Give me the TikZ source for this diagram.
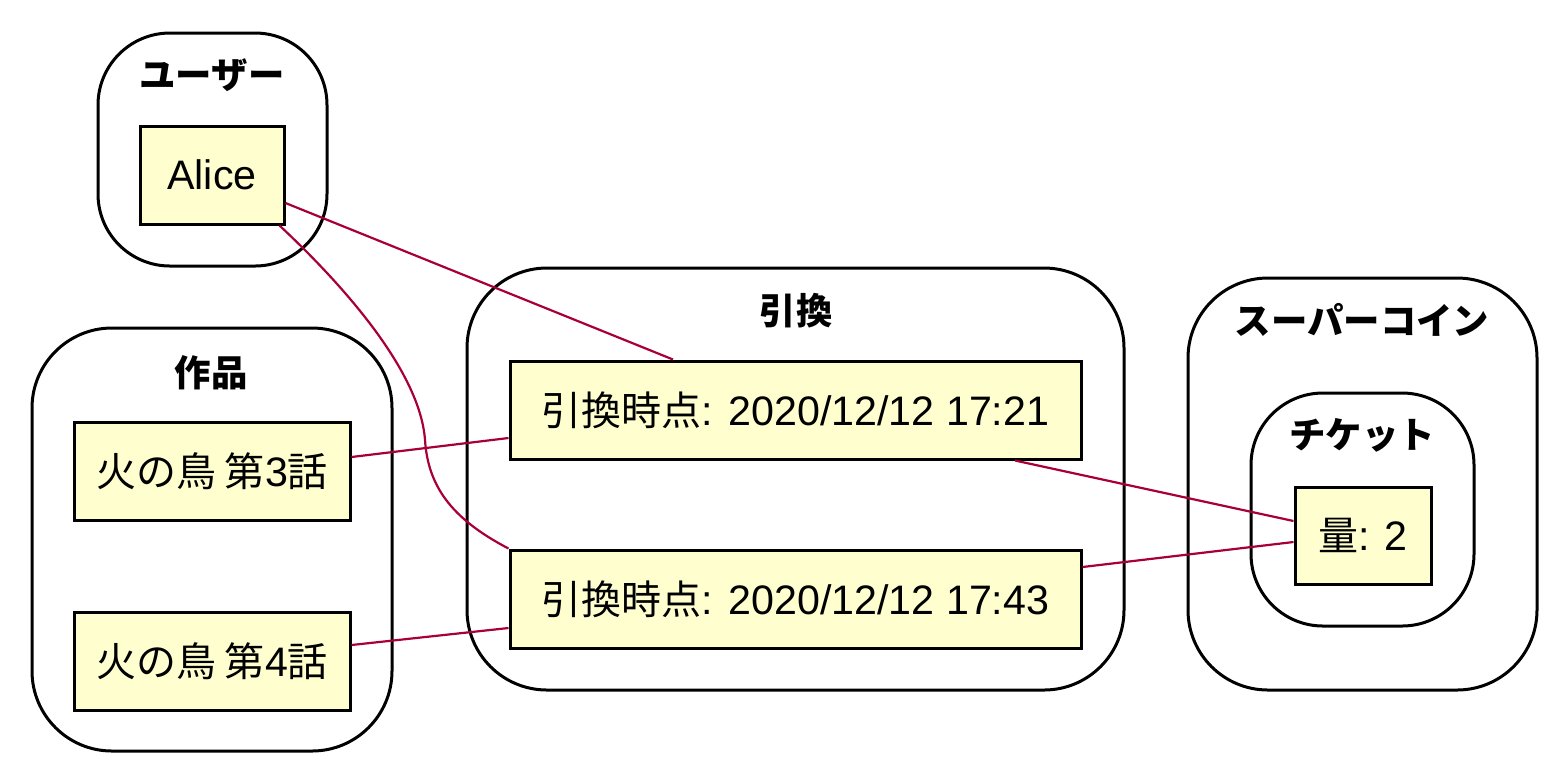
\documentclass[tikz,border=0pt]{standalone}
\usepackage{fontspec}
\setmainfont{Liberation Sans}
\newfontfamily\cjk{Noto Sans CJK JP}
\newcommand\jtext[1]{{\cjk\fontsize{20}{24}\selectfont #1}}
\definecolor{boxfill}{HTML}{FEFECE}
\definecolor{edgecol}{HTML}{A80036}
\tikzset{
  cluster/.style={draw=black, line width=1.5pt, rounded corners=40pt},
  smallcluster/.style={draw=black, line width=1.5pt, rounded corners=36pt},
  objbox/.style={draw=black, fill=boxfill, line width=1.5pt, inner sep=0pt, align=center,
    font=\fontsize{20.6}{24}\selectfont},
  ctitle/.style={inner sep=0pt, font=\cjk\bfseries\fontsize{18.2}{22}\selectfont},
  link/.style={draw=edgecol, line width=1.1pt}
}
\begin{document}
\begin{tikzpicture}[x=0.5pt, y=-0.5pt]
\useasboundingbox (0,0) rectangle (1562,768);
% clusters
\draw[smallcluster] (98,33) rectangle (327,266);
\draw[cluster] (32,328) rectangle (392,751);
\draw[cluster] (467,268) rectangle (1124,690);
\draw[cluster] (1188,278) rectangle (1537,690);
\draw[smallcluster] (1251,393) rectangle (1474,626);
% titles
\node[ctitle] (tuser) at (212,75) {ユーザー};
\node[ctitle] (twork) at (211,373) {作品};
\node[ctitle] (tex) at (796,311) {引換};
\node[ctitle] (tcoin) at (1362,320) {スーパーコイン};
\node[ctitle] (tticket) at (1362,435) {チケット};
% objects
\node[objbox, minimum width=72pt, minimum height=49pt] (alice) at (212,175) {Alice};
\node[objbox, minimum width=138pt, minimum height=49pt] (ep3) at (212,471) {\jtext{火の鳥 第}3\jtext{話}};
\node[objbox, minimum width=138pt, minimum height=49pt] (ep4) at (212,661) {\jtext{火の鳥 第}4\jtext{話}};
\node[objbox, minimum width=285.5pt, minimum height=49pt] (ex1) at (795.5,410) {\jtext{引換時点}: 2020/12/12 17:21};
\node[objbox, minimum width=285.5pt, minimum height=49pt] (ex2) at (795.5,599) {\jtext{引換時点}: 2020/12/12 17:43};
\node[objbox, minimum width=68pt, minimum height=48.5pt] (amt) at (1363,535.5) {\jtext{量}: 2};
% links
\draw[link] ([yshift=-14pt]alice.east) -- ([xshift=-61.25pt]ex1.north);
\draw[link] ([xshift=-3pt]alice.south east) .. controls (340,282) and (420,370) .. (425,440)
  .. controls (428,485) and (450,518) .. (ex2.north west);
\draw[link] ([yshift=7pt]ep3.east) -- ([yshift=-14pt]ex1.west);
\draw[link] ([yshift=8pt]ep4.east) -- ([yshift=-14.5pt]ex2.west);
\draw[link] ([xshift=109.75pt]ex1.south) -- ([yshift=7.25pt]amt.west);
\draw[link] ([yshift=16pt]ex2.east) -- ([yshift=-3.25pt]amt.west);
\end{tikzpicture}
\end{document}
